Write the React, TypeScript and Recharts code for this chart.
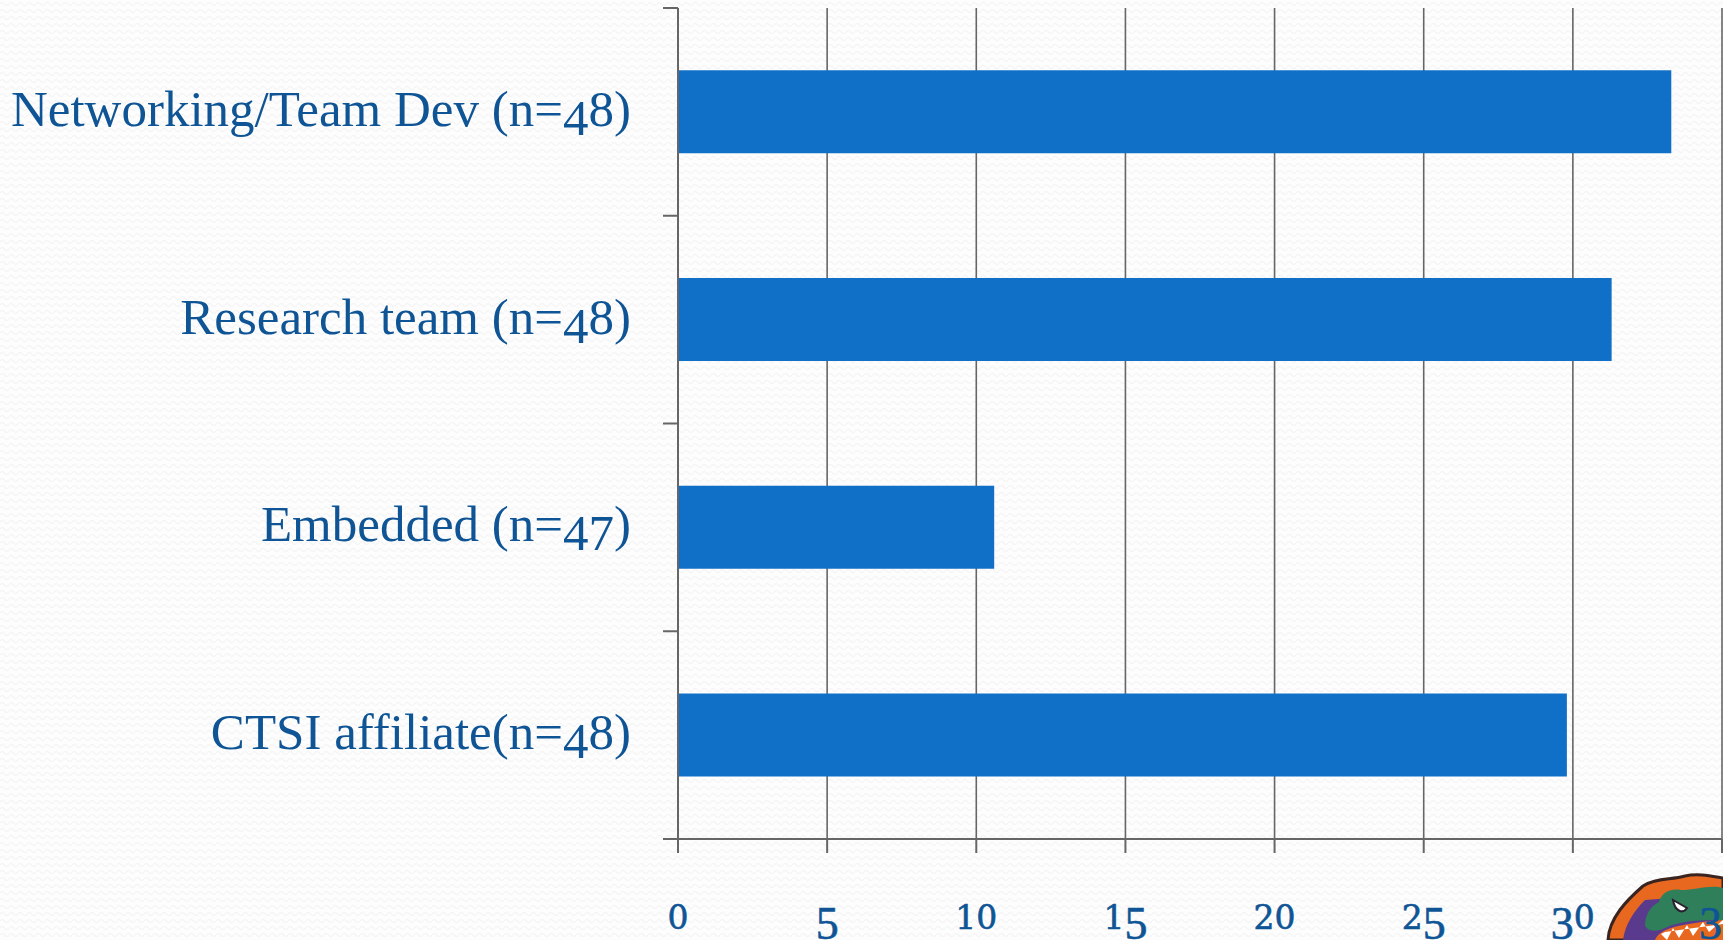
import React from 'react';
import { BarChart, Bar, XAxis, YAxis, CartesianGrid } from 'recharts';

const categories = ['Networking/Team Dev (n=48)', 'Research team (n=48)', 'Embedded (n=47)', 'CTSI affiliate(n=48)'];
const percents = [33.3, 31.3, 10.6, 29.8];
const xTicks = [0, 5, 10, 15, 20, 25, 30, 35];
// this axis runs over the row indexes 0..3, so five marks on the band edges fall at quarters of 3
const bandTicks = [0, 0.75, 1.5, 2.25, 3];

const data = categories.map((name, i) => ({ name, value: percents[i] }));

const BLUE = '#0f5596';
const GREY = '#666666';
const LOW_DIGITS = '012';

// faint wavy paper texture of the slide
const WAVES =
  "url(\"data:image/svg+xml,%3Csvg xmlns='http://www.w3.org/2000/svg' width='9' height='7'%3E%3Cpath d='M0 4 Q2.25 1 4.5 4 T9 4' fill='none' stroke='%23f5f5f5' stroke-width='1.5'/%3E%3C/svg%3E\")";

// old style figures: the tall digits hang under the baseline
function XTick({ x, y, payload }: any) {
  const chars = String(payload.value).split('');
  return (
    <text x={x} y={y + 76} textAnchor="middle" fill={BLUE} stroke={BLUE} strokeWidth={0.6} fontFamily="'DejaVu Serif', serif">
      {chars.map((c, i) => {
        const low = LOW_DIGITS.includes(c);
        const prevLow = i === 0 || LOW_DIGITS.includes(chars[i - 1]);
        const dy = low === prevLow ? (i === 0 && !low ? 10 : 0) : low ? -10 : 10;
        return (
          <tspan key={i} dy={dy} fontSize={low ? 33 : 46} fontFamily={low ? "'DejaVu Serif', serif" : "'Liberation Serif', serif"}>
            {c}
          </tspan>
        );
      })}
    </text>
  );
}

function CategoryTick({ x, y, payload }: any) {
  // "n=48" and "n=47": the 4 and the 7 drop below the baseline
  const m = String(payload.value).match(/^(.*=)4(\d)\)$/);
  const head = m ? m[1] : payload.value;
  const last = m ? m[2] : '';
  return (
    <text x={x} y={y + 14} textAnchor="end" fill={BLUE} fontSize={51} fontFamily="'Liberation Serif', serif">
      <tspan>{head}</tspan>
      <tspan dy={9}>4</tspan>
      <tspan dy={last === '7' ? 0 : -9}>{last}</tspan>
      <tspan dy={last === '7' ? -9 : 0}>)</tspan>
    </text>
  );
}

function Gator() {
  return (
    <svg width={120} height={70} style={{ position: 'absolute', left: 1603, top: 870 }}>
      <path d="M5 70 C6 48 24 30 40 16 C52 8 68 10 82 6 C95 3 108 6 120 8 L120 70 Z" fill="#e8681f" stroke="#3a2420" strokeWidth={3} />
      <path d="M20 70 C22 55 30 42 42 30 L120 24 L120 70 Z" fill="#5a3a8c" />
      <path d="M42 56 C42 44 48 36 56 32 C58 24 66 18 78 20 C92 20 108 14 120 18 L120 50 C100 50 78 50 62 58 C54 62 46 62 42 56 Z" fill="#2f7f5a" />
      <path d="M70 30 L84 38 C80 44 72 42 70 30 Z" fill="#ffffff" stroke="#2a2030" strokeWidth={2} />
      <path d="M52 70 C56 60 70 54 120 50 L120 70 Z" fill="#e8681f" />
      <path d="M58 64 L64 70 L70 58 L76 68 L84 55 L90 66 L100 52 L106 62 L120 50 L120 54 L62 62 Z" fill="#ffffff" />
    </svg>
  );
}

export default function App() {
  return (
    <div style={{ position: 'fixed', left: 0, top: 0, width: 1723, height: 940, overflow: 'hidden', backgroundColor: '#fdfdfd', backgroundImage: WAVES }}>
      <Gator />
      <div style={{ position: 'absolute', left: 0, top: 0 }}>
        <BarChart
          width={1723}
          height={940}
          data={data}
          layout="vertical"
          barCategoryGap="30%"
          margin={{ top: 8, right: 1, bottom: 0, left: 0 }}
        >
          <CartesianGrid horizontal={false} stroke={GREY} strokeWidth={1.6} />
          <XAxis
            type="number"
            domain={[0, 35]}
            ticks={xTicks}
            interval={0}
            height={101}
            tickSize={14}
            tickMargin={0}
            stroke={GREY}
            strokeWidth={2}
            tick={<XTick />}
          />
          <YAxis
            yAxisId="bands"
            type="number"
            domain={[0, 3]}
            ticks={bandTicks}
            interval={0}
            width={15}
            tickSize={15}
            tickFormatter={() => ''}
            stroke={GREY}
            strokeWidth={2}
          />
          <YAxis
            yAxisId="cats"
            type="category"
            dataKey="name"
            interval={0}
            width={663}
            axisLine={false}
            tickLine={false}
            tickSize={0}
            tickMargin={32}
            tick={<CategoryTick />}
          />
          <Bar yAxisId="cats" dataKey="value" fill="#1070c8" isAnimationActive={false} />
        </BarChart>
      </div>
    </div>
  );
}
